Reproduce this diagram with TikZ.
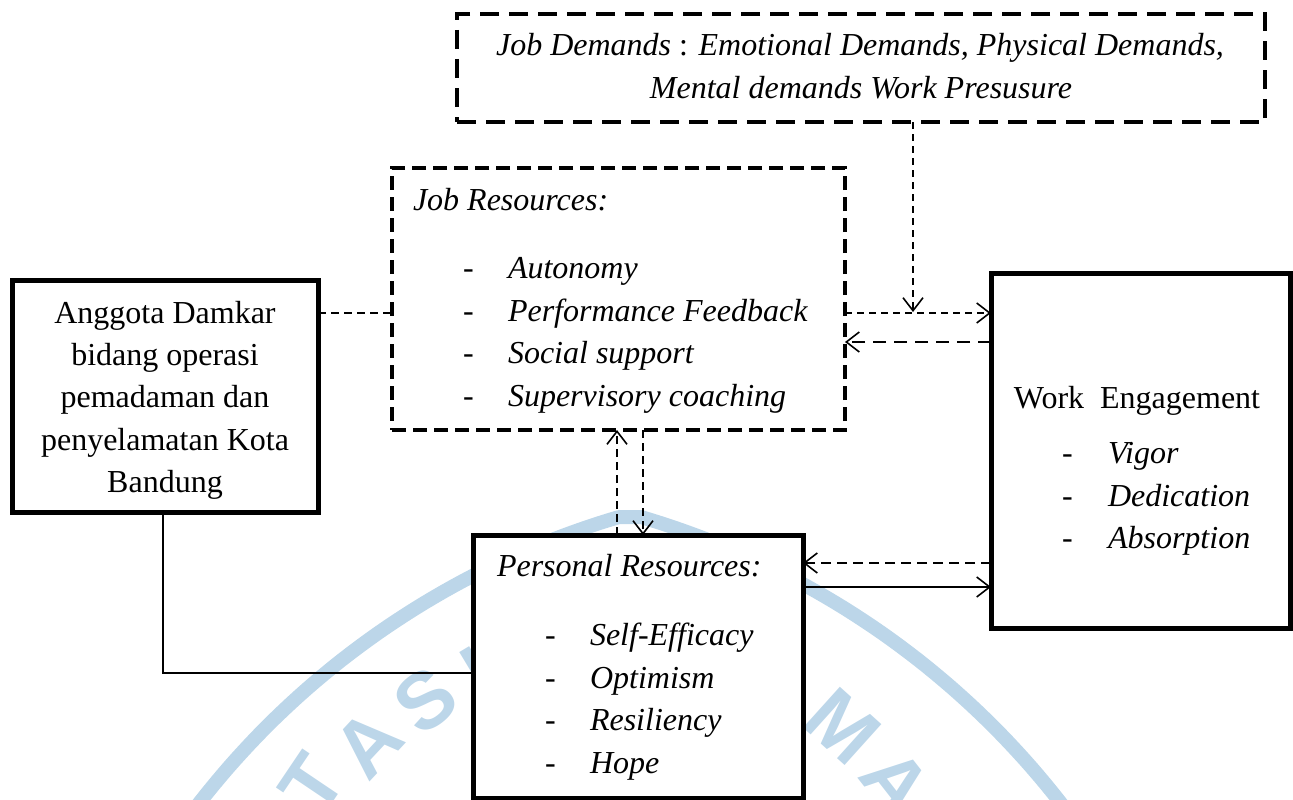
\documentclass[tikz,border=0pt]{standalone}
\usepackage{fontspec}
\setmainfont{Liberation Serif}
\newfontfamily\markfont{Liberation Sans}
\usetikzlibrary{arrows.meta}
\definecolor{markblue}{RGB}{188,214,233}
\begin{document}
\begin{tikzpicture}[x=1pt,y=-1pt,
  every node/.style={inner sep=0pt,outer sep=0pt},
  body/.style={font=\fontsize{32}{42}\selectfont},
  lefttext/.style={body,anchor=base west},
  midtext/.style={body,anchor=base},
  solidbox/.style={draw,line width=5pt,fill=white},
  dashbox/.style={draw,line width=4.5pt,fill=white},
  link/.style={line width=1.6pt},
  tip/.style={-{Straight Barb[length=13pt,width=20pt,line width=1.6pt]}},
  wmletter/.style={text=markblue,font=\markfont\bfseries\fontsize{80}{80}\selectfont}
]
\useasboundingbox (0,0) rectangle (1293,800);

% faint seal in the background
\draw[markblue,line width=14pt,line join=round]
  plot[domain=-152:-106.5,samples=60] ({854+830*cos(\x)},{1313+830*sin(\x)})
  -- plot[domain=-73.5:-28,samples=60] ({406+830*cos(\x)},{1313+830*sin(\x)});
\node[wmletter,rotate=56] (wmT) at (312,784) {T};
\node[wmletter,rotate=47] (wmA) at (368,744) {A};
\node[wmletter,rotate=38] (wmS) at (426,700) {S};
\node[wmletter,rotate=31] (wmK) at (494,664) {K};
\node[wmletter,rotate=-42] (wmM) at (843,726) {M};
\node[wmletter,rotate=-52] (wmA2) at (896,782) {A};

% boxes
\node[dashbox,dash pattern=on 19pt off 10pt,minimum width=808pt,minimum height=108pt] (jd) at (861,68) {};
\node[dashbox,dash pattern=on 14pt off 7pt,minimum width=453pt,minimum height=262pt] (jr) at (618.5,299) {};
\node[solidbox,minimum width=306pt,minimum height=232pt] (org) at (165,396) {};
\node[solidbox,minimum width=330pt,minimum height=263pt] (pr) at (638,666.5) {};
\node[solidbox,minimum width=299pt,minimum height=355pt] (we) at (1140.5,450.5) {};

% Job Demands
\node[midtext] (jd1) at (860,56) {\textit{Job Demands} : \textit{Emotional Demands, Physical Demands,}};
\node[midtext] (jd2) at (861,98) {\textit{Mental demands Work Presusure}};

% Job Resources
\node[lefttext] (jrh) at (413,210) {\textit{Job Resources:}};
\node[lefttext] (jrd1) at (463,278.5) {-};
\node[lefttext] (jrd2) at (463,321.2) {-};
\node[lefttext] (jrd3) at (463,363.9) {-};
\node[lefttext] (jrd4) at (463,406.6) {-};
\node[lefttext] (jri1) at (508,278.5) {\textit{Autonomy}};
\node[lefttext] (jri2) at (508,321.2) {\textit{Performance Feedback}};
\node[lefttext] (jri3) at (508,363.9) {\textit{Social support}};
\node[lefttext] (jri4) at (508,406.6) {\textit{Supervisory coaching}};

% organisation
\node[midtext] (org1) at (165,323) {Anggota Damkar};
\node[midtext] (org2) at (165,365) {bidang operasi};
\node[midtext] (org3) at (165,407) {pemadaman dan};
\node[midtext] (org4) at (165,450) {penyelamatan Kota};
\node[midtext] (org5) at (165,492) {Bandung};

% Personal Resources
\node[lefttext] (prh) at (497,576) {\textit{Personal Resources:}};
\node[lefttext] (prd1) at (545,645) {-};
\node[lefttext] (prd2) at (545,688) {-};
\node[lefttext] (prd3) at (545,730) {-};
\node[lefttext] (prd4) at (545,773) {-};
\node[lefttext] (pri1) at (590,645) {\textit{Self-Efficacy}};
\node[lefttext] (pri2) at (590,688) {\textit{Optimism}};
\node[lefttext] (pri3) at (590,730) {\textit{Resiliency}};
\node[lefttext] (pri4) at (590,773) {\textit{Hope}};

% Work Engagement
\node[midtext] (weh) at (1137,408) {Work\ \ Engagement};
\node[lefttext] (wed1) at (1062,463) {-};
\node[lefttext] (wed2) at (1062,506) {-};
\node[lefttext] (wed3) at (1062,548) {-};
\node[lefttext] (wei1) at (1108,463) {\textit{Vigor}};
\node[lefttext] (wei2) at (1108,506) {\textit{Dedication}};
\node[lefttext] (wei3) at (1108,548) {\textit{Absorption}};

% connectors
\coordinate (meet) at (913,312);
\draw[link,dash pattern=on 8pt off 5pt] (org.east |- 0,313) -- (jr.west |- 0,313);
\draw[link,tip,dash pattern=on 7pt off 5pt] (jd.south -| meet) -- (meet);
\draw[link,tip,dash pattern=on 7pt off 5pt] (jr.east |- 0,313) -- (we.west |- 0,313);
\draw[link,tip,dash pattern=on 13pt off 8pt] (we.west |- 0,342) -- (jr.east |- 0,342);
\draw[link,tip,dash pattern=on 8pt off 5pt] (pr.north -| 617,0) -- (jr.south -| 617,0);
\draw[link,tip,dash pattern=on 8pt off 5pt] (jr.south -| 643,0) -- (pr.north -| 643,0);
\draw[link,tip,dash pattern=on 10pt off 6pt] (we.west |- 0,563) -- (pr.east |- 0,563);
\draw[link,tip] (pr.east |- 0,587) -- (we.west |- 0,587);
\draw[link] (org.south -| 163,0) |- (pr.west |- 0,673);
\end{tikzpicture}
\end{document}
